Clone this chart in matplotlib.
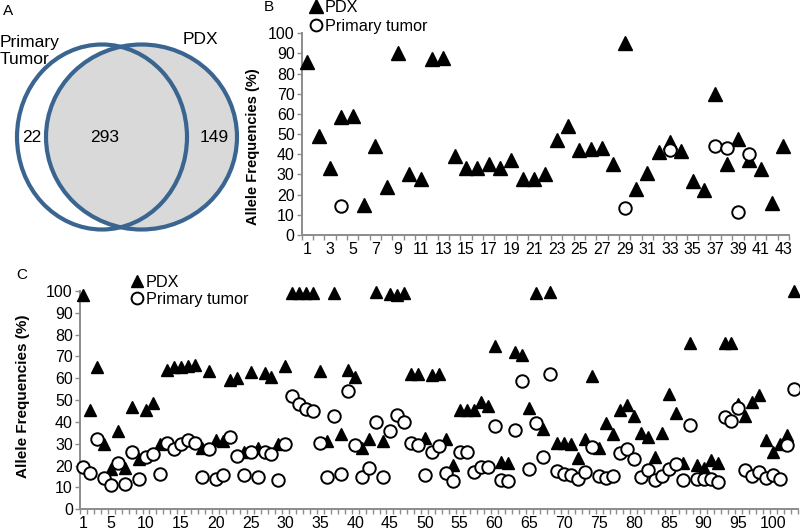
import numpy as np
import matplotlib
matplotlib.use('Agg')
import matplotlib.pyplot as plt
from matplotlib.patches import Ellipse
from matplotlib.lines import Line2D

plt.rcParams['font.family'] = ['Liberation Sans', 'DejaVu Sans']

# ---------------- data ----------------
venn_names = ['Primary\nTumor', 'PDX']
venn_counts = [22, 293, 149]   # primary only, shared, PDX only

b_categories = list(range(1, 44))
b_pdx = [86, 49, 33, 58.5, 59, 15, 44, 24, 90, 30, 28, 87.5, 88, 39, 33, 33, 35, 33, 37,
         28, 28, 30, 47, 54, 42, 42.5, 43, 35, 95, 23, 30.5, 41, 46, 41.5, 27, 22.5, 70,
         35, 47.5, 37, 32.5, 16, 44]
b_primary = [np.nan, np.nan, np.nan, 14.5, np.nan, np.nan, np.nan, np.nan, np.nan, np.nan,
             np.nan, np.nan, np.nan, np.nan, np.nan, np.nan, np.nan, np.nan, np.nan, np.nan,
             np.nan, np.nan, np.nan, np.nan, np.nan, np.nan, np.nan, np.nan, 13.5, np.nan,
             np.nan, np.nan, 42, np.nan, np.nan, np.nan, 44, 43, 11.5, 40, np.nan, np.nan, np.nan]
b_xticklabels = list(range(1, 44, 2))

c_categories = list(range(1, 104))
c_pdx = [98, 45.5, 65, 29.8, 18.3, 35.9, 18.8, 47, 23, 45.5,
         48.5, 30, 63.8, 65, 65, 65.6, 66, 28, 63.5, 31.8,
         31.5, 59.2, 60, 26.4, 62.8, 28, 62.5, 60.5, 30, 65.8,
         99, 99.3, 99.3, 99.3, 63.5, 31.3, 99.3, 34.5, 63.8, 60.5,
         28.2, 32.2, 99.6, 31.3, 98.8, 98, 99.3, 62, 62, 32.8,
         61.5, 62, 32, 20.3, 45.5, 45.5, 45.5, 49, 47.5, 75,
         21.8, 21, 72, 70.7, 46.3, 99.3, 37, 99.7, 30.2, 30.2,
         29.8, 23.7, 32, 61, 28, 39.4, 34.4, 45.5, 47.8, 42.9,
         35, 33.3, 24, 34.8, 53, 44.3, 21, 76, 20.3, 18.8,
         22.6, 21.4, 76, 76, 48.2, 42.7, 49.3, 52.4, 31.8, 26.4,
         30, 34, 100]
c_primary = [19.5, 16.8, 32.2, 14.2, 11, 21.4, 11.6, 26.4, 13.7, 24,
             25.3, 16, 30.5, 27.5, 29.8, 31.8, 30.5, 15, 27.5, 13.9,
             15.7, 33.3, 24.6, 15.7, 26.4, 15, 26.4, 25.3, 13.4, 29.8,
             52, 48.2, 45.8, 45.2, 30.5, 15, 42.7, 16.2, 54.2, 29.5,
             15, 18.8, 40.2, 14.7, 36, 43.2, 40.2, 30.2, 29.5, 15.7,
             26.4, 29, 16.8, 13, 26.4, 26.4, 16.9, 19.2, 19.2, 38.2,
             13.4, 13, 36.3, 58.9, 18.5, 39.7, 23.8, 62, 17.5, 16.2,
             15.7, 13.9, 17.3, 28.7, 15.3, 14.5, 15.4, 26, 27.5, 22.9,
             15, 18, 13.4, 15.4, 18.5, 20.8, 13.4, 38.6, 13.7, 13.9,
             13.9, 12.7, 42.1, 40.5, 46.3, 18, 15.3, 17.3, 14.2, 15.7,
             13.9, 29.5, 55]
c_xticklabels = [1] + list(range(5, 101, 5))

series_names = ['PDX', 'Primary tumor']
yticks = list(range(0, 101, 10))

# ---------------- figure ----------------
W, H = 800, 530
fig = plt.figure(figsize=(W / 100, H / 100), dpi=100)

def px_axes(x0, y0, x1, y1):
    return fig.add_axes([x0 / W, 1 - y1 / H, (x1 - x0) / W, (y1 - y0) / H])

# overlay axes in pixel coordinates for panel A + panel letters
ax0 = fig.add_axes([0, 0, 1, 1])
ax0.set_xlim(0, W)
ax0.set_ylim(H, 0)
ax0.axis('off')

edge = '#3b6591'
ax0.add_patch(Ellipse((141.5, 137), 191, 185, facecolor='#d9d9d9', edgecolor='none', zorder=1))
ax0.add_patch(Ellipse((102, 137), 170, 185, facecolor='none', edgecolor=edge, lw=3, zorder=2))
ax0.add_patch(Ellipse((141.5, 137), 191, 185, facecolor='none', edgecolor=edge, lw=3, zorder=2))
ax0.text(0, 51, venn_names[0], fontsize=12.5, ha='left', va='center', linespacing=1.2)
ax0.text(200, 40, venn_names[1], fontsize=12.5, ha='center', va='center')
ax0.text(32, 138, str(venn_counts[0]), fontsize=12.5, ha='center', va='center')
ax0.text(105, 138, str(venn_counts[1]), fontsize=12.5, ha='center', va='center')
ax0.text(214, 138, str(venn_counts[2]), fontsize=12.5, ha='center', va='center')
ax0.text(8, 11, 'A', fontsize=11, ha='center', va='center')
ax0.text(269, 7, 'B', fontsize=11, ha='center', va='center')
ax0.text(22, 275, 'C', fontsize=11, ha='center', va='center')

spine_c = '#8c8c8c'

def style(ax, n, ticklabels, ylabel_size, ylab_xy):
    ax.set_xlim(0.5, n + 0.5)
    ax.set_ylim(0, 100)
    for s in ['top', 'right']:
        ax.spines[s].set_visible(False)
    for s in ['left', 'bottom']:
        ax.spines[s].set_color(spine_c)
        ax.spines[s].set_linewidth(1.4)
    ax.set_yticks(yticks)
    ax.set_xticks(ticklabels)
    ax.set_xticks(np.arange(0.5, n + 1, 1), minor=True)
    ax.tick_params(axis='x', which='major', length=0, pad=5, labelsize=11.5)
    ax.tick_params(axis='x', which='minor', length=3.5, color=spine_c, width=1)
    ax.tick_params(axis='y', length=3.5, color=spine_c, width=1, pad=1.5, labelsize=11.5)
    ax.set_ylabel('Allele Frequencies (%)', fontweight='bold', fontsize=ylabel_size)
    ax.yaxis.set_label_coords(*ylab_xy)
    ax.patch.set_alpha(0)

def draw(ax, x, pdx, prim, ms_t, ms_c):
    ax.plot(x, pdx, linestyle='none', marker='^', color='black', ms=ms_t, clip_on=False, zorder=3)
    ax.plot(x, prim, linestyle='none', marker='o', mfc='white', mec='black', mew=1.4,
            ms=ms_c, clip_on=False, zorder=4)

def legend(ax, xy, ms_t, ms_c, spacing):
    h = [Line2D([], [], linestyle='none', marker='^', color='black', ms=ms_t),
         Line2D([], [], linestyle='none', marker='o', mfc='white', mec='black', mew=1.4, ms=ms_c)]
    ax.legend(h, series_names, loc='upper left', bbox_to_anchor=(xy[0] / W, 1 - xy[1] / H),
              bbox_transform=fig.transFigure, frameon=False, fontsize=11.7,
              handlelength=0.7, handletextpad=0.2, labelspacing=spacing,
              borderpad=0, borderaxespad=0)

# panel B
axB = px_axes(301.6, 33.3, 789, 235)
draw(axB, b_categories, b_pdx, b_primary, 10, 9)
style(axB, 43, b_xticklabels, 10.5, (-0.085, 0.44))
legend(axB, (310, 0), 9.5, 8.5, 0.25)

# panel C
axC = px_axes(79.8, 291, 797.7, 509.3)
draw(axC, c_categories, c_pdx, c_primary, 9, 9)
style(axC, 103, c_xticklabels, 11, (-0.069, 0.52))
legend(axC, (131, 275), 9, 8.5, 0.12)

fig.savefig('out.png', dpi=100)
